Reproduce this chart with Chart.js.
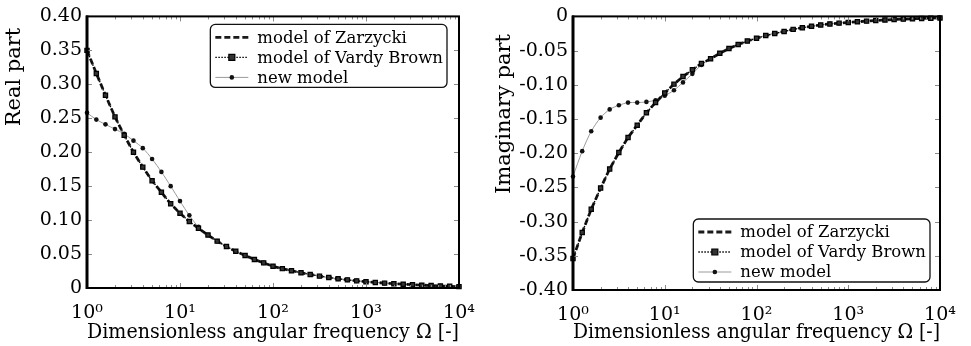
<!DOCTYPE html>
<html>
<head>
<meta charset="utf-8">
<script src="https://cdn.jsdelivr.net/npm/chart.js@4.4.0/dist/chart.umd.min.js"></script>
<style>
  html, body { margin: 0; padding: 0; background: #fff; }
  #wrap { position: relative; width: 971px; height: 346px; }
  #realBox { position: absolute; left: 0; top: 0; }
  #imagBox { position: absolute; left: 490px; top: 0; }
</style>
</head>
<body>
<div id="wrap">
  <div id="realBox"><canvas id="realChart" width="490" height="346"></canvas></div>
  <div id="imagBox"><canvas id="imagChart" width="481" height="346"></canvas></div>
</div>
<script>
// dimensionless angular frequency, 10 points per decade
const omega = [1, 1.26, 1.58, 2, 2.51, 3.16, 3.98, 5.01, 6.31, 7.94,
  10, 12.6, 15.8, 20, 25.1, 31.6, 39.8, 50.1, 63.1, 79.4,
  100, 126, 158, 200, 251, 316, 398, 501, 631, 794,
  1000, 1259, 1585, 1995, 2512, 3162, 3981, 5012, 6310, 7943, 10000];

const zarzyckiReal = [0.350, 0.316, 0.284, 0.252, 0.225, 0.200, 0.178, 0.158, 0.141, 0.124,
  0.110, 0.098, 0.088, 0.078, 0.069, 0.061, 0.054, 0.048, 0.042, 0.037,
  0.032, 0.0285, 0.0255, 0.0225, 0.0200, 0.0175, 0.0155, 0.0135, 0.0120, 0.0105,
  0.0093, 0.0082, 0.0072, 0.0064, 0.0056, 0.0049, 0.0042, 0.0036, 0.0030, 0.0025, 0.0020];
const vardyReal = [0.350, 0.316, 0.284, 0.252, 0.225, 0.200, 0.178, 0.158, 0.141, 0.124,
  0.110, 0.098, 0.088, 0.078, 0.069, 0.061, 0.054, 0.048, 0.042, 0.037,
  0.032, 0.0285, 0.0255, 0.0225, 0.0200, 0.0175, 0.0155, 0.0135, 0.0120, 0.0105,
  0.0093, 0.0082, 0.0072, 0.0064, 0.0056, 0.0049, 0.0042, 0.0036, 0.0030, 0.0025, 0.0020];
const newReal = [0.258, 0.248, 0.241, 0.234, 0.227, 0.217, 0.206, 0.190, 0.171, 0.150,
  0.128, 0.107, 0.090, 0.078, 0.069, 0.061, 0.054, 0.048, 0.042, 0.037,
  0.032, 0.0285, 0.0255, 0.0225, 0.0200, 0.0175, 0.0155, 0.0135, 0.0120, 0.0105,
  0.0093, 0.0082, 0.0072, 0.0064, 0.0056, 0.0049, 0.0042, 0.0036, 0.0030, 0.0025, 0.0020];

const zarzyckiImag = [-0.354, -0.316, -0.282, -0.251, -0.223, -0.199, -0.177, -0.159, -0.141, -0.126,
  -0.112, -0.099, -0.088, -0.078, -0.069, -0.062, -0.054, -0.047, -0.041, -0.036,
  -0.032, -0.028, -0.025, -0.022, -0.019, -0.0165, -0.0145, -0.0125, -0.011, -0.0098,
  -0.0088, -0.0078, -0.0069, -0.0060, -0.0052, -0.0045, -0.0040, -0.0035, -0.0030, -0.0026, -0.0022];
const vardyImag = [-0.354, -0.316, -0.282, -0.251, -0.223, -0.199, -0.177, -0.159, -0.141, -0.126,
  -0.112, -0.099, -0.088, -0.078, -0.069, -0.062, -0.054, -0.047, -0.041, -0.036,
  -0.032, -0.028, -0.025, -0.022, -0.019, -0.0165, -0.0145, -0.0125, -0.011, -0.0098,
  -0.0088, -0.0078, -0.0069, -0.0060, -0.0052, -0.0045, -0.0040, -0.0035, -0.0030, -0.0026, -0.0022];
const newImag = [-0.234, -0.197, -0.168, -0.148, -0.136, -0.130, -0.126, -0.126, -0.125, -0.1225,
  -0.116, -0.108, -0.0965, -0.084, -0.071, -0.062, -0.054, -0.047, -0.041, -0.036,
  -0.032, -0.028, -0.025, -0.022, -0.019, -0.0165, -0.0145, -0.0125, -0.011, -0.0098,
  -0.0088, -0.0078, -0.0069, -0.0060, -0.0052, -0.0045, -0.0040, -0.0035, -0.0030, -0.0026, -0.0022];

const decades = [1, 10, 100, 1000, 10000];
const supers = ['\u2070', '\u00b9', '\u00b2', '\u00b3', '\u2074'];
const seriesNames = ['model of Zarzycki', 'model of Vardy Brown', 'new model'];

const serif = '"DejaVu Serif", "Liberation Serif", serif';

function pts(ys) {
  return omega.map((w, i) => ({ x: w, y: ys[i] }));
}

// inward ticks on all four sides plus the black frame
const frameTicks = {
  id: 'frameTicks',
  afterDatasetsDraw(chart) {
    const { ctx, chartArea: a, scales: { x, y } } = chart;
    ctx.save();
    ctx.strokeStyle = '#8a8a8a';
    ctx.lineWidth = 1;
    const seg = (x1, y1, x2, y2) => {
      ctx.beginPath(); ctx.moveTo(x1, y1); ctx.lineTo(x2, y2); ctx.stroke();
    };
    decades.forEach(d => {
      for (let m = 1; m < 10; m++) {
        const v = d * m;
        if (v > decades[decades.length - 1]) break;
        const px = Math.round(x.getPixelForValue(v)) + 0.5;
        const len = m === 1 ? 5 : 3;
        seg(px, a.bottom, px, a.bottom - len);
        seg(px, a.top, px, a.top + len);
      }
    });
    y.ticks.forEach(t => {
      const py = Math.round(y.getPixelForValue(t.value)) + 0.5;
      seg(a.left, py, a.left + 5, py);
      seg(a.right, py, a.right - 5, py);
    });
    ctx.strokeStyle = '#000';
    ctx.lineWidth = 2;
    ctx.strokeRect(a.left, a.top, a.width, a.height);
    ctx.lineWidth = 3;
    seg(a.left, a.top - 1, a.left, a.bottom + 1);
    ctx.restore();
  }
};

// framed legend inside the plot area and the rotated y title
const boxLegend = {
  id: 'boxLegend',
  afterDraw(chart, args, opts) {
    const { ctx, chartArea: a } = chart;
    const sets = chart.data.datasets;
    ctx.save();
    ctx.font = '16.5px ' + serif;
    const textW = Math.max(...sets.map(d => ctx.measureText(d.label).width));
    const w = 47 + textW + 4, h = 63;
    const left = a.right - opts.dx - w;
    const top = opts.corner === 'top' ? a.top + opts.dy : a.bottom - opts.dy - h;
    ctx.beginPath();
    ctx.roundRect(left, top, w, h, 5);
    ctx.fillStyle = '#fff';
    ctx.fill();
    ctx.strokeStyle = '#111';
    ctx.lineWidth = 1.3;
    ctx.stroke();
    sets.forEach((d, i) => {
      const cy = top + 13 + i * 20;
      ctx.setLineDash(d.borderDash || []);
      ctx.strokeStyle = d.borderColor;
      ctx.lineWidth = d.borderWidth;
      ctx.beginPath(); ctx.moveTo(left + 5, cy); ctx.lineTo(left + 38, cy); ctx.stroke();
      ctx.setLineDash([]);
      if (d.pointRadius > 0) {
        const r = d.pointRadius, cx = left + 21.5;
        ctx.fillStyle = d.pointBackgroundColor;
        ctx.strokeStyle = d.pointBorderColor;
        ctx.lineWidth = d.pointBorderWidth;
        ctx.beginPath();
        if (d.pointStyle === 'rect') ctx.rect(cx - r, cy - r, 2 * r, 2 * r);
        else ctx.arc(cx, cy, r, 0, Math.PI * 2);
        ctx.fill();
        if (d.pointBorderWidth) ctx.stroke();
      }
      ctx.fillStyle = '#000';
      ctx.textBaseline = 'middle';
      ctx.textAlign = 'left';
      ctx.fillText(d.label, left + 47, cy + 1);
    });
    // y title
    ctx.font = '21px ' + serif;
    ctx.translate(opts.titleX, opts.titleY);
    ctx.rotate(-Math.PI / 2);
    ctx.textAlign = 'center';
    ctx.textBaseline = 'middle';
    ctx.fillText(opts.yTitle, 0, 0);
    ctx.restore();
  }
};

function makeChart(id, re, vb, nm, yMin, yMax, layout) {
  const ctx = document.getElementById(id).getContext('2d');
  return new Chart(ctx, {
    type: 'line',
    data: {
      datasets: [{
        label: seriesNames[0],
        data: pts(re),
        borderColor: '#1a1a1a',
        borderWidth: 2.8,
        borderDash: [6, 3],
        pointRadius: 0,
        order: 2
      }, {
        label: seriesNames[1],
        data: pts(vb),
        borderColor: '#000',
        borderWidth: 1.4,
        borderDash: [1.5, 1.5],
        pointStyle: 'rect',
        pointRadius: 3,
        pointBackgroundColor: '#333',
        pointBorderColor: '#000',
        pointBorderWidth: 1.2,
        order: 1
      }, {
        label: seriesNames[2],
        data: pts(nm),
        borderColor: '#9a9a9a',
        borderWidth: 1,
        tension: 0.3,
        pointStyle: 'circle',
        pointRadius: 2.3,
        pointBackgroundColor: '#111',
        pointBorderColor: '#111',
        pointBorderWidth: 0,
        order: 3
      }]
    },
    options: {
      responsive: false,
      animation: false,
      clip: false,
      layout: { padding: { top: 13, right: layout.padRight, left: 0, bottom: 0 } },
      scales: {
        x: {
          type: 'logarithmic',
          min: 1,
          max: 10000,
          grid: { display: false, drawTicks: false },
          border: { display: false },
          afterBuildTicks: s => { s.ticks = decades.map(v => ({ value: v })); },
          afterFit: s => { s.height = layout.xHeight; },
          ticks: {
            color: '#000',
            padding: 14,
            maxRotation: 0,
            font: { family: serif, size: 19 },
            callback: v => '10' + supers[Math.round(Math.log10(v))]
          },
          title: {
            display: true,
            text: 'Dimensionless angular frequency \u03a9 [-]',
            color: '#000',
            padding: { top: 0, bottom: 1 },
            font: { family: serif, size: 21 }
          }
        },
        y: {
          min: yMin,
          max: yMax,
          grid: { display: false, drawTicks: false },
          border: { display: false },
          afterFit: s => { s.width = layout.yWidth; },
          ticks: {
            stepSize: 0.05,
            color: '#000',
            padding: 5,
            font: { family: serif, size: 19 },
            callback: v => Math.abs(v) < 1e-9 ? '0' : v.toFixed(2)
          }
        }
      },
      plugins: {
        legend: { display: false },
        tooltip: { enabled: false },
        boxLegend: layout.legend
      }
    },
    plugins: [frameTicks, boxLegend]
  });
}

makeChart('realChart', zarzyckiReal, vardyReal, newReal, 0, 0.40, {
  padRight: 31, xHeight: 58, yWidth: 87,
  legend: { corner: 'top', dx: 12, dy: 8, yTitle: 'Real part', titleX: 15, titleY: 77 }
});
makeChart('imagChart', zarzyckiImag, vardyImag, newImag, -0.40, 0, {
  padRight: 31, xHeight: 56, yWidth: 83,
  legend: { corner: 'bottom', dx: 10, dy: 8, yTitle: 'Imaginary part', titleX: 15, titleY: 114 }
});
</script>
</body>
</html>
